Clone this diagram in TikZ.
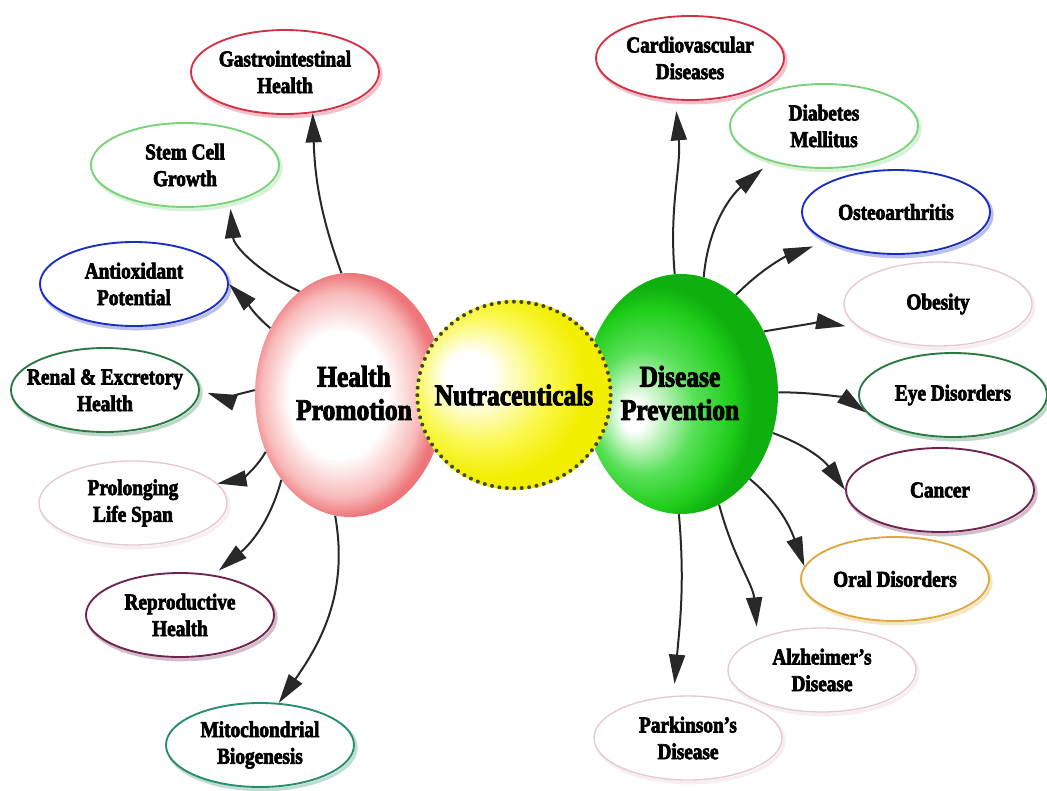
\documentclass[tikz,border=0pt]{standalone}
\usepackage{fontspec}
\newfontfamily\lbl{Liberation Serif}[FakeStretch=0.85, BoldFeatures={FakeBold=3}]
\usetikzlibrary{shapes.geometric,arrows.meta}
\definecolor{pinkA}{RGB}{248,185,185}
\definecolor{pinkB}{RGB}{238,118,122}
\definecolor{yelA}{RGB}{250,248,80}
\definecolor{yelB}{RGB}{242,238,0}
\definecolor{grnA}{RGB}{90,225,90}
\definecolor{grnB}{RGB}{30,205,25}
\definecolor{grnC}{RGB}{15,175,15}
\definecolor{cRed}{RGB}{210,50,72}
\definecolor{cLgreen}{RGB}{120,210,120}
\definecolor{cBlue}{RGB}{25,45,190}
\definecolor{cDgreen}{RGB}{40,120,65}
\definecolor{cLpink}{RGB}{228,200,212}
\definecolor{cPurple}{RGB}{110,35,80}
\definecolor{cTeal}{RGB}{40,140,110}
\definecolor{cGold}{RGB}{220,170,60}
\definecolor{dotc}{RGB}{70,70,40}
\definecolor{arrc}{RGB}{40,40,40}
\pgfdeclareradialshading{pinkball}{\pgfpoint{-4bp}{0bp}}{color(0bp)=(white); color(13bp)=(white); color(21bp)=(pinkA); color(25bp)=(pinkB); color(50bp)=(pinkB)}
\pgfdeclareradialshading{yelball}{\pgfpoint{-13bp}{6bp}}{color(0bp)=(white); color(6bp)=(white); color(17bp)=(yelA); color(25bp)=(yelB); color(50bp)=(yelB)}
\pgfdeclareradialshading{grnball}{\pgfpoint{-13bp}{-5bp}}{color(0bp)=(white); color(3bp)=(white); color(13bp)=(grnA); color(21bp)=(grnB); color(25bp)=(grnC); color(50bp)=(grnC)}
\tikzset{
  ell/.style={ellipse, draw=#1, line width=1.4pt, fill=white,
    minimum width=141pt, minimum height=63pt, inner xsep=-10pt, inner ysep=0pt,
    align=center, font=\lbl\bfseries\fontsize{17}{20}\selectfont,
    preaction={draw=#1!30, line width=2.5pt, transform canvas={shift={(1.5pt,-2pt)}}}},
  lell/.style={ell=#1, line width=1pt},
  arr/.style={draw=arrc, line width=1.5pt, -{Triangle[length=22pt,width=12pt]}},
  big/.style={font=\lbl\bfseries\fontsize{22.5}{25}\selectfont, align=center, inner sep=0pt}
}
\begin{document}
\begin{tikzpicture}[x=0.75pt,y=-0.75pt]
\useasboundingbox (0,0) rectangle (1047,790);
\fill[white] (0,0) rectangle (1047,790);
% outer ellipses, left
\node[ell=cRed]    (gi) at (285,72)  {Gastrointestinal\\Health};
\node[ell=cLgreen] (sc) at (185,165) {Stem Cell\\Growth};
\node[ell=cBlue]   (ao) at (134,284) {Antioxidant\\Potential};
\node[ell=cDgreen] (re) at (105,390) {Renal \& Excretory\\Health};
\node[lell=cLpink] (pl) at (133,503) {Prolonging\\Life Span};
\node[ell=cPurple] (rh) at (180,615) {Reproductive\\Health};
\node[ell=cTeal]   (mb) at (260,745) {Mitochondrial\\Biogenesis};
% outer ellipses, right
\node[ell=cRed]    (cv) at (690,58)  {Cardiovascular\\Diseases};
\node[ell=cLgreen] (dm) at (824,126) {Diabetes\\Mellitus};
\node[ell=cBlue]   (oa) at (896,212) {Osteoarthritis};
\node[lell=cLpink] (ob) at (938,304) {Obesity};
\node[ell=cDgreen] (ey) at (953,395) {Eye Disorders};
\node[ell=cPurple] (ca) at (940,490) {Cancer};
\node[ell=cGold]   (od) at (895,579) {Oral Disorders};
\node[lell=cLpink] (al) at (822,670) {Alzheimer’s\\Disease};
\node[lell=cLpink] (pk) at (688,738) {Parkinson’s\\Disease};
% central circles
\node[ellipse, shade, shading=pinkball, minimum width=142.5pt, minimum height=183pt, inner sep=0pt] (hp) at (350,395) {};
\node[ellipse, shade, shading=grnball, minimum width=145.5pt, minimum height=180pt, inner sep=0pt] (dp) at (681,394) {};
\node[ellipse, shade, shading=yelball, minimum width=147pt, minimum height=142.5pt, inner sep=0pt] (nu) at (514,395) {};
\draw[dotc, line width=3pt, dash pattern=on 0pt off 5.6pt, line cap=round] (nu.center) ellipse [x radius=72.5pt, y radius=70pt];
\node[big] (hpt) at (354,393) {Health\\Promotion};
\node[big] (nut) at (514,395) {Nutraceuticals};
\node[big] (dpt) at (680,393) {Disease\\Prevention};
% arrows left
\draw[arr] (hp.94) to[out=110,in=-88] (gi.-56);
\draw[arr, shorten >=4.5pt] (hp.116) to[out=155,in=-85] (sc.-40);
\draw[arr] (hp.140) to[out=140,in=-45] (ao.0);
\draw[arr, shorten >=6pt] (hp.177) to[out=195,in=-20] (re.0);
\draw[arr] (hp.214) to[out=240,in=10] (pl.13);
\draw[arr, shorten >=5pt] (hp.231) to[out=255,in=40] (rh.50);
\draw[arr] (hp.263) to[out=-80,in=55] (mb.66);
% arrows right
\draw[arr, shorten >=8pt] (dp.93) to[out=95,in=-85] (cv.-109);
\draw[arr, shorten >=8pt] (dp.79) to[out=85,in=-140] (dm.-146);
\draw[arr, shorten >=11pt] (dp.61) to[out=45,in=-160] (oa.-157);
\draw[arr, shorten >=12pt] (dp.37) to[out=10,in=170] (ob.-162);
\draw[arr, shorten >=13.5pt] (dp.1) to[out=0,in=145] (ey.-159);
\draw[arr] (dp.-23) to[out=-20,in=125] (ca.180);
\draw[arr] (dp.-51) to[out=-40,in=110] (od.172);
\draw[arr, shorten >=9pt] (dp.-71) to[out=-75,in=95] (al.154);
\draw[arr, shorten >=9pt] (dp.-91) to[out=-85,in=85] (pk.109);
\end{tikzpicture}
\end{document}
